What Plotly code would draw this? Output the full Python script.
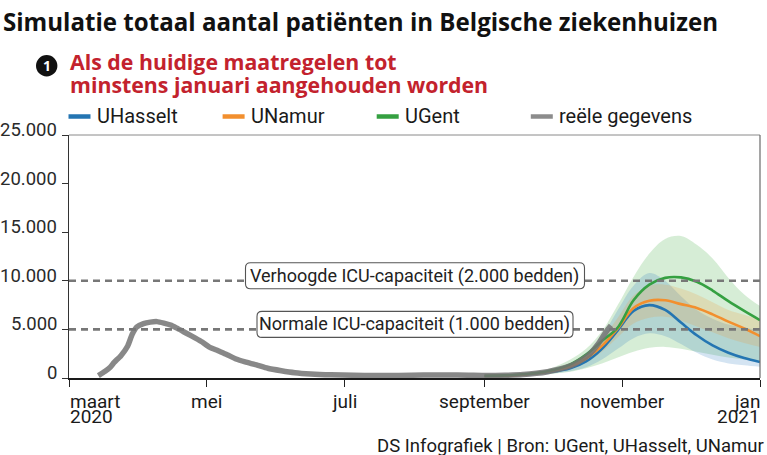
import plotly.graph_objects as go

# ---------------- data ----------------
real_dates = ["2020-03-14", "2020-03-17", "2020-03-19", "2020-03-21", "2020-03-24", "2020-03-27",
              "2020-03-29", "2020-03-31", "2020-04-03", "2020-04-06", "2020-04-09", "2020-04-12",
              "2020-04-15", "2020-04-18", "2020-04-22", "2020-04-26", "2020-04-29", "2020-05-02",
              "2020-05-06", "2020-05-10", "2020-05-14", "2020-05-18", "2020-05-23", "2020-05-28",
              "2020-06-03", "2020-06-09", "2020-06-16", "2020-06-25", "2020-07-05", "2020-07-15",
              "2020-07-25", "2020-08-05", "2020-08-15", "2020-08-25", "2020-09-02", "2020-09-10",
              "2020-09-18", "2020-09-24", "2020-09-29", "2020-10-03", "2020-10-07", "2020-10-11",
              "2020-10-15", "2020-10-18", "2020-10-21", "2020-10-23", "2020-10-25", "2020-10-27"]
real_values = [250, 700, 1050, 1600, 2300, 3300,
               4500, 5250, 5600, 5750, 5800, 5650,
               5450, 5100, 4600, 4100, 3700, 3200,
               2800, 2400, 1950, 1650, 1350, 1000,
               750, 550, 420, 330, 280, 250,
               260, 300, 320, 280, 250, 280,
               350, 480, 650, 850, 1100, 1450,
               2000, 2550, 3400, 4100, 4800, 5400]

model_dates = ["2020-09-01", "2020-09-15", "2020-09-29", "2020-10-09", "2020-10-16", "2020-10-23",
               "2020-10-30", "2020-11-06", "2020-11-13", "2020-11-20", "2020-11-27", "2020-12-04",
               "2020-12-11", "2020-12-18", "2020-12-25", "2021-01-01"]

uhasselt = [200, 300, 600, 1000, 1700, 3000, 4900, 6900, 7500, 7000, 5700, 4400, 3350, 2600, 2050, 1650]
uhasselt_lo = [170, 230, 450, 700, 1100, 1900, 3000, 4100, 4600, 4300, 3500, 2600, 1900, 1500, 1300, 1150]
uhasselt_hi = [230, 380, 800, 1500, 2600, 4300, 7000, 9500, 10800, 10000, 8400, 7000, 6100, 5500, 5200, 4900]

unamur = [200, 300, 650, 1200, 2000, 3300, 5100, 7200, 7950, 8000, 7600, 7200, 6550, 5800, 5100, 4300]
unamur_lo = [170, 250, 520, 950, 1600, 2700, 4200, 5600, 6200, 6300, 5900, 5300, 4700, 4100, 3600, 3200]
unamur_hi = [230, 360, 780, 1450, 2500, 4000, 6200, 8500, 9500, 9600, 9200, 8600, 7800, 7000, 6500, 6000]

ugent = [220, 330, 700, 1400, 2400, 3800, 5200, 8000, 9600, 10300, 10350, 9900, 9000, 7900, 6900, 5950]
ugent_lo = [150, 220, 400, 650, 1000, 1500, 2100, 2700, 3100, 3200, 3000, 2700, 2400, 2100, 1900, 1700]
ugent_hi = [250, 420, 900, 1900, 3000, 4800, 7500, 10400, 12800, 14300, 14600, 13700, 12300, 10300, 8600, 7400]

ytick_vals = [0, 5000, 10000, 15000, 20000, 25000]
ytick_text = ["0", "5.000", "10.000", "15.000", "20.000", "25.000"]

xtick_vals = ["2020-03-01", "2020-05-01", "2020-07-01", "2020-09-01", "2020-11-01", "2021-01-01"]
xtick_month = ["maart", "mei", "juli", "september", "november", "jan"]
xtick_year = ["2020", "", "", "", "", "2021"]

capacity_vals = [10000, 5000]
capacity_text = ["Verhoogde ICU-capaciteit (2.000 bedden)", "Normale ICU-capaciteit (1.000 bedden)"]
capacity_box_w = [339, 316]
capacity_center = "2020-08-01"

legend_names = ["UHasselt", "UNamur", "UGent", "reële gegevens"]

# ---------------- style ----------------
W, H = 767, 455
L, R, T, B = 69, 7, 135, 77
PW, PH = W - L - R, H - T - B

def px(x):
    return (x - L) / PW

def py(y):
    return (H - B - y) / PH

BLUE = "#2475b2"
ORANGE = "#f28f2e"
GREEN = "#35a041"
RED = "#c3222d"

REG = "Roboto, 'Liberation Sans', sans-serif"
BOLD = "'Open Sans', 'Liberation Sans', sans-serif"

fig = go.Figure()

def band(x, hi, lo, color):
    fig.add_trace(go.Scatter(x=x, y=hi, mode="lines", line=dict(width=0, shape="spline", smoothing=1),
                             showlegend=False, hoverinfo="skip"))
    fig.add_trace(go.Scatter(x=x, y=lo, mode="lines", line=dict(width=0, shape="spline", smoothing=1),
                             fill="tonexty", fillcolor=color, showlegend=False, hoverinfo="skip"))

band(model_dates, ugent_hi, ugent_lo, "rgba(70,175,70,0.22)")
band(model_dates, uhasselt_hi, uhasselt_lo, "rgba(40,120,190,0.20)")
band(model_dates, unamur_hi, unamur_lo, "rgba(240,150,50,0.20)")

for vals, col, name in [(uhasselt, BLUE, "UHasselt"), (unamur, ORANGE, "UNamur"), (ugent, GREEN, "UGent")]:
    fig.add_trace(go.Scatter(x=model_dates, y=vals, mode="lines", name=name,
                             line=dict(color=col, width=2.6, shape="spline", smoothing=1),
                             showlegend=False))

fig.add_trace(go.Scatter(x=real_dates, y=real_values, mode="lines", name="reële gegevens",
                         line=dict(color="rgba(115,115,115,0.85)", width=5.5, shape="spline", smoothing=0.6),
                         showlegend=False))

shapes = []
annotations = []

# frame top / right
shapes.append(dict(type="line", xref="paper", yref="paper", x0=0, x1=1, y0=1, y1=1,
                   line=dict(color="#8a8a8a", width=1), layer="above"))
shapes.append(dict(type="line", xref="paper", yref="paper", x0=1, x1=1, y0=0, y1=1,
                   line=dict(color="#6a6a6a", width=1.2), layer="above"))

# capacity lines + rounded boxes
def rrect(x0, y0, x1, y1, r):
    return (f"M {px(x0 + r)},{py(y0)} L {px(x1 - r)},{py(y0)} Q {px(x1)},{py(y0)} {px(x1)},{py(y0 + r)} "
            f"L {px(x1)},{py(y1 - r)} Q {px(x1)},{py(y1)} {px(x1 - r)},{py(y1)} "
            f"L {px(x0 + r)},{py(y1)} Q {px(x0)},{py(y1)} {px(x0)},{py(y1 - r)} "
            f"L {px(x0)},{py(y0 + r)} Q {px(x0)},{py(y0)} {px(x0 + r)},{py(y0)} Z")

box_cx = 415
for val, txt, bw in zip(capacity_vals, capacity_text, capacity_box_w):
    shapes.append(dict(type="line", xref="paper", yref="y", x0=0, x1=1, y0=val, y1=val,
                       line=dict(color="#777777", width=2.6, dash="7px,5px"), layer="above"))
    ypix = (H - B) - val / 25000 * PH
    cy = ypix - 5
    shapes.append(dict(type="path", xref="paper", yref="paper",
                       path=rrect(box_cx - bw / 2, cy - 13, box_cx + bw / 2, cy + 13, 5),
                       fillcolor="white", line=dict(color="#555555", width=1.1), layer="above"))
    annotations.append(dict(x=capacity_center, xref="x", y=val, yref="y", yshift=5, text=txt,
                            showarrow=False, xanchor="center", yanchor="middle",
                            font=dict(family=REG, size=18, color="#222222")))

# y tick labels
for v, t in zip(ytick_vals, ytick_text):
    annotations.append(dict(x=0, xref="paper", y=v, yref="y", xshift=-10, yshift=5, text=t,
                            showarrow=False, xanchor="right", yanchor="middle",
                            font=dict(family=REG, size=18.5, color="#2a2a2a")))

# x tick labels
for i, (d, m, yr) in enumerate(zip(xtick_vals, xtick_month, xtick_year)):
    if i == 0:
        anc, xs = "left", -1
    elif i == len(xtick_vals) - 1:
        anc, xs = "right", 2
    else:
        anc, xs = "center", 0
    annotations.append(dict(x=d, xref="x", y=py(401.5), yref="paper", xshift=xs, text=m,
                            showarrow=False, xanchor=anc, yanchor="middle",
                            font=dict(family=REG, size=19, color="#1a1a1a")))
    if yr:
        annotations.append(dict(x=d, xref="x", y=py(416), yref="paper", xshift=xs, text=yr,
                                showarrow=False, xanchor=anc, yanchor="middle",
                                font=dict(family=REG, size=19, color="#1a1a1a")))

# title / subtitle
annotations.append(dict(x=px(1), xref="paper", y=py(21.5), yref="paper",
                        text="<b>Simulatie totaal aantal patiënten in Belgische ziekenhuizen</b>",
                        showarrow=False, xanchor="left", yanchor="middle",
                        font=dict(family=BOLD, size=24.1, color="#111111")))
annotations.append(dict(x=px(68), xref="paper", y=py(61), yref="paper",
                        text="<b>Als de huidige maatregelen tot</b>",
                        showarrow=False, xanchor="left", yanchor="middle",
                        font=dict(family=BOLD, size=21.3, color=RED)))
annotations.append(dict(x=px(68), xref="paper", y=py(84.5), yref="paper",
                        text="<b>minstens januari aangehouden worden</b>",
                        showarrow=False, xanchor="left", yanchor="middle",
                        font=dict(family=BOLD, size=21.3, color=RED)))
shapes.append(dict(type="circle", xref="paper", yref="paper",
                   x0=px(36), x1=px(57.4), y0=py(55), y1=py(76.4),
                   fillcolor="#111111", line=dict(width=0), layer="above"))
annotations.append(dict(x=px(46.7), xref="paper", y=py(65.7), yref="paper", text="<b>1</b>",
                        showarrow=False, xanchor="center", yanchor="middle",
                        font=dict(family=BOLD, size=14, color="white")))

# legend (manual)
legend_cols = [BLUE, ORANGE, GREEN, "#8c8c8c"]
legend_x = [68.5, 222.6, 376.7, 530.8]
for name, col, lx in zip(legend_names, legend_cols, legend_x):
    shapes.append(dict(type="line", xref="paper", yref="paper", x0=px(lx), x1=px(lx + 22),
                       y0=py(116.5), y1=py(116.5), line=dict(color=col, width=4.5)))
    annotations.append(dict(x=px(lx + 26), xref="paper", y=py(116.5), yref="paper", text=name,
                            showarrow=False, xanchor="left", yanchor="middle",
                            font=dict(family=REG, size=20, color="#1a1a1a")))

# footer
annotations.append(dict(x=px(766), xref="paper", y=py(446), yref="paper",
                        text="DS Infografiek | Bron: UGent, UHasselt, UNamur",
                        showarrow=False, xanchor="right", yanchor="middle",
                        font=dict(family=REG, size=18.5, color="#1a1a1a")))

fig.update_layout(
    width=W, height=H,
    margin=dict(l=L, r=R, t=T, b=B, pad=0),
    paper_bgcolor="white", plot_bgcolor="white",
    showlegend=False,
    shapes=shapes, annotations=annotations,
    xaxis=dict(type="date", range=["2020-03-01", "2021-01-01"], tickvals=xtick_vals,
               showticklabels=False, ticks="outside", ticklen=7, tickwidth=1.3, tickcolor="#222222",
               showline=True, linecolor="#1a1a1a", linewidth=2, showgrid=False, zeroline=False,
               fixedrange=True),
    yaxis=dict(range=[0, 25000], tickvals=ytick_vals, showticklabels=False, ticks="outside",
               ticklen=6, tickwidth=1.2, tickcolor="#333333", showline=True, linecolor="#333333",
               linewidth=1.3, showgrid=False, zeroline=False, fixedrange=True),
)

fig.write_html("out.html", config={"displayModeBar": False},
               post_script="document.body.style.margin='0';document.body.style.overflow='hidden';")
